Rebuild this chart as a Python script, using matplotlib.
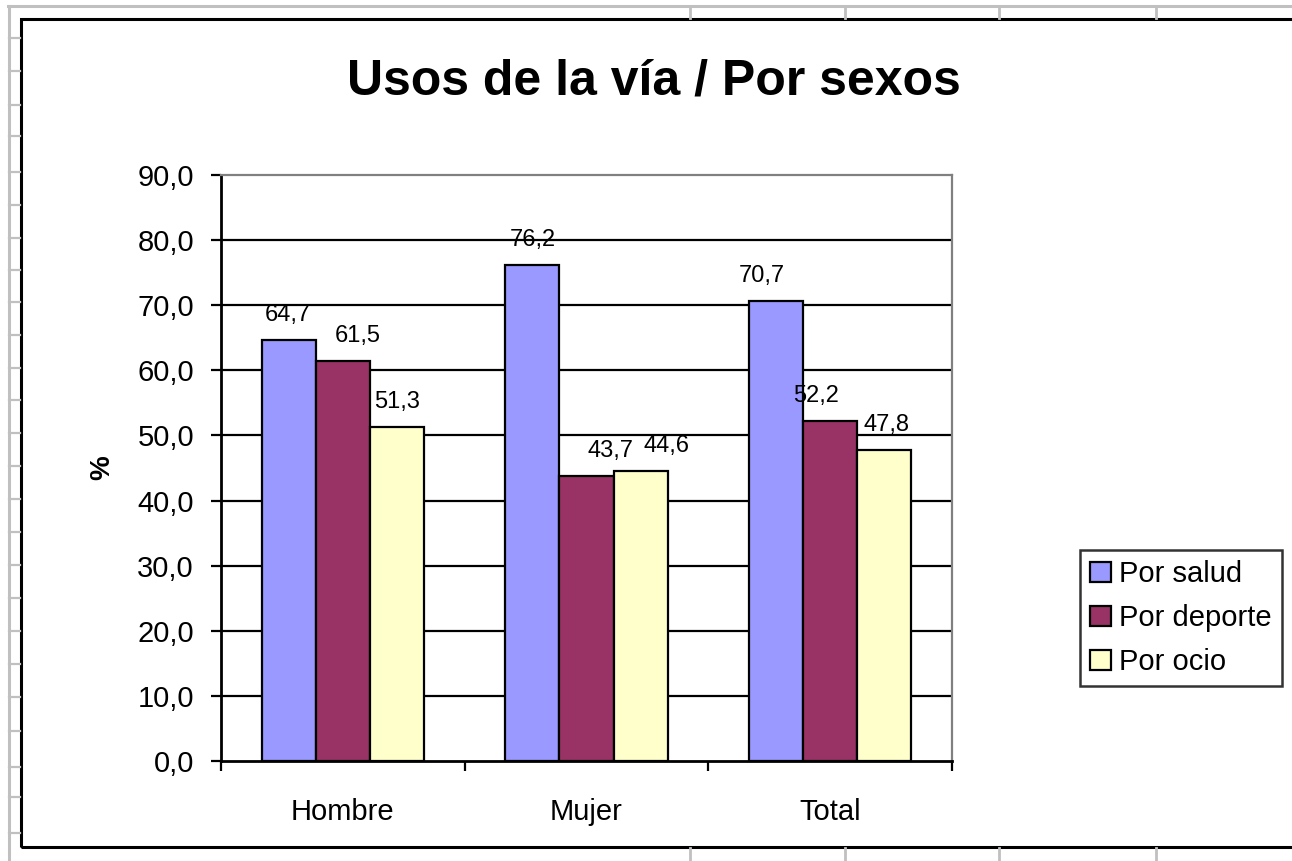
import matplotlib.pyplot as plt
import numpy as np
from matplotlib.lines import Line2D
from matplotlib.patches import Rectangle

plt.rcParams["font.family"] = ["Liberation Sans", "DejaVu Sans"]

# data
categories = ["Hombre", "Mujer", "Total"]
series_names = ["Por salud", "Por deporte", "Por ocio"]
por_salud = [64.7, 76.2, 70.7]
por_deporte = [61.5, 43.7, 52.2]
por_ocio = [51.3, 44.6, 47.8]
y_ticks = [0, 10, 20, 30, 40, 50, 60, 70, 80, 90]

colors = ["#9999FF", "#993366", "#FFFFCC"]
# hand nudges of the data labels in the original (pixels)
label_dx = [[-1, 15, 0], [0, 24, 26], [-14, -14, 2]]

W, H = 1292, 861
fig = plt.figure(figsize=(W / 100, H / 100), dpi=100)


def px_line(x0, y0, x1, y1, color, lw):
    fig.add_artist(Line2D([x0 / W, x1 / W], [1 - y0 / H, 1 - y1 / H],
                          transform=fig.transFigure, color=color, lw=lw))


# spreadsheet grid behind the chart object
grey = "#c0c0c0"
px_line(8, 6, W, 6, grey, 2.2)
px_line(9, 6, 9, H, grey, 2.2)
for x in [690, 845, 999, 1156]:
    px_line(x, 6, x, 18, grey, 2.0)
    px_line(x, 848, x, H, grey, 2.0)
for y in [38, 71, 105, 136, 172, 205, 238, 270, 302, 335, 368, 400, 433,
          466, 499, 532, 565, 598, 631, 664, 697, 731, 767, 797, 833]:
    px_line(9, y, 20, y, grey, 1.6)

# chart frame (runs past the right edge of the screenshot)
fig.add_artist(Rectangle((21 / W, 1 - 847 / H), (W + 20 - 21) / W, (847 - 19) / H,
                         transform=fig.transFigure, fill=False,
                         edgecolor="black", lw=2.2))

ax = fig.add_axes([221 / W, 1 - 761 / H, 731 / W, 586 / H])

x = np.arange(len(categories))
width = 1 / 4.5
values = [por_salud, por_deporte, por_ocio]
for i, (name, vals) in enumerate(zip(series_names, values)):
    bars = ax.bar(x + (i - 1) * width, vals, width, color=colors[i],
                  edgecolor="black", linewidth=1.6, label=name, zorder=3)
    for j, b in enumerate(bars):
        ax.annotate(f"{vals[j]:.1f}".replace(".", ","),
                    (b.get_x() + b.get_width() / 2, b.get_height()),
                    xytext=(label_dx[j][i] * 0.72, 18),
                    textcoords="offset points", ha="center", va="center",
                    fontsize=17, zorder=4)

ax.set_xlim(-0.5, len(categories) - 0.5)
ax.set_ylim(0, 90)
ax.set_yticks(y_ticks)
ax.set_yticklabels([f"{v:.1f}".replace(".", ",") for v in y_ticks], fontsize=21)
for v in y_ticks[1:-1]:
    ax.axhline(v, color="black", lw=1.6, zorder=1)

ax.set_xticks(x)
ax.set_xticklabels(categories, fontsize=21)
ax.set_xticks(np.arange(len(categories) + 1) - 0.5, minor=True)
ax.tick_params(axis="x", which="major", length=0, pad=27)
ax.tick_params(axis="x", which="minor", length=7.5, width=1.6, direction="out")
ax.tick_params(axis="y", length=7.5, width=1.6, direction="out", pad=12)

ax.spines["left"].set_linewidth(2.0)
ax.spines["bottom"].set_linewidth(2.0)
ax.spines["top"].set_color("#808080")
ax.spines["right"].set_color("#808080")
ax.spines["top"].set_linewidth(1.6)
ax.spines["right"].set_linewidth(1.6)

ax.set_ylabel("%", fontsize=20, fontweight="bold", labelpad=16)

fig.text(654 / W, 1 - 82 / H, "Usos de la vía / Por sexos", ha="center",
         va="center", fontsize=36, fontweight="bold")

leg = ax.legend(loc="center left", bbox_to_anchor=(1080 / W, 1 - 618 / H),
                bbox_transform=fig.transFigure, fontsize=21, frameon=True,
                fancybox=False, edgecolor="black", handlelength=0.7,
                handleheight=0.7, handletextpad=0.3, borderpad=0.35,
                labelspacing=0.55, borderaxespad=0)
leg.get_frame().set_linewidth(1.8)

fig.savefig("out.png", dpi=100)
